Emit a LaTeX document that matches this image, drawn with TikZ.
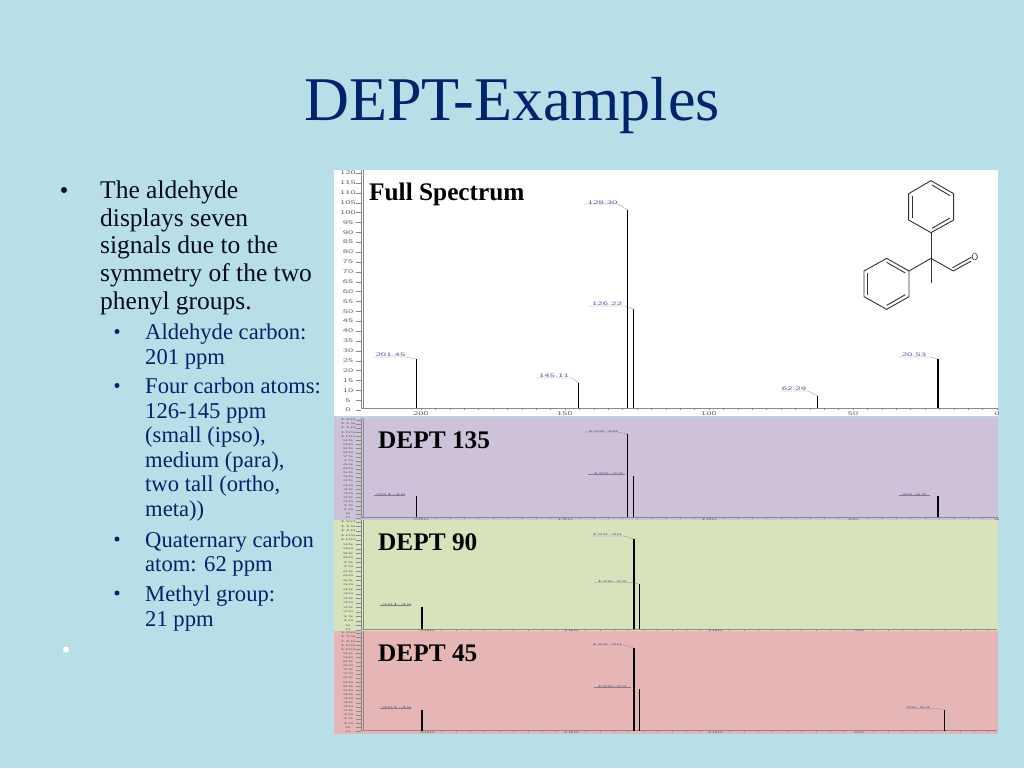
\documentclass[tikz,border=0pt]{standalone}
\usepackage{fontspec}
\setmainfont{Liberation Serif}
\definecolor{bgblue}{HTML}{B8DFE8}
\definecolor{navy}{HTML}{00246B}
\definecolor{bodyc}{HTML}{050A1E}
\definecolor{subc}{HTML}{00246B}
\definecolor{panelp}{HTML}{CDC2DA}
\definecolor{panelg}{HTML}{D8E3BC}
\definecolor{panelr}{HTML}{E6B6B6}
\definecolor{peakblue}{HTML}{5A55A8}
\definecolor{axisc}{HTML}{8A8A8A}
\newcommand{\fs}[1]{\fontsize{#1}{#1}\selectfont}
\tikzset{
  x=1pt,y=-1pt,
  peak/.style={line width=1.6pt,black},
  axisline/.style={line width=0.7pt,axisc},
  leader/.style={line width=0.25pt,gray},
  bond/.style={line width=0.9pt,black!80},
  mainline/.style={anchor=base west,inner sep=0,font=\fs{25.5},text=bodyc},
  subline/.style={anchor=base west,inner sep=0,font=\fs{22.6},text=subc},
  bulletmark/.style={circle,inner sep=0,minimum size=6pt,fill=#1},
  subbullet/.style={circle,inner sep=0,minimum size=5pt,fill=subc},
  paneltitle/.style={anchor=base west,inner sep=0,font=\fs{25.3}\bfseries,text=black},
  peaklabel/.style={inner sep=0,font=\fs{6.5}\sffamily,text=peakblue},
  axislabel/.style={inner sep=0,font=\fs{6.5}\sffamily,text=black!60},
}
% #1 top label y, #2 y spacing per 5 units, #3 baseline y, #4 x shift, #5 label y of x axis, #6 vertical squash
\newcommand{\panelaxes}[6]{
  \draw[axisline] (361,{#1-4}) -- (361,#3) -- (997,#3);
  \draw[axisline,line width=0.3pt] (363,{#1-4}) -- (363,#3);
  \foreach \v [count=\i from 0] in {120,115,...,0}{
    \node[axislabel,xscale=1.5,yscale=#6*0.85] at (348,{#1+\i*#2}) {\v};
    \draw[line width=0.25pt,axisc] (356,{#1+\i*#2}) -- (361,{#1+\i*#2});
  }
  \foreach \k in {0,...,40}{
    \draw[line width=0.25pt,axisc] ({#4+421+\k*14.4},#3) -- ({#4+421+\k*14.4},{#3+1.5});
  }
  \foreach \lab/\xp in {200/421,150/565,100/709,50/853,0/997}{
    \node[axislabel,xscale=1.5,yscale=#6*0.85] at ({#4+\xp},#5) {\lab};
  }
}
\begin{document}
\begin{tikzpicture}
\useasboundingbox (0,0) rectangle (1024,768);
\fill[bgblue] (0,0) rectangle (1024,768);
\node[anchor=base,inner sep=0,font=\fs{62.2},text=navy] (title) at (512,120) {DEPT-Examples};

% left text
\node[bulletmark=bodyc] (b1) at (64,190) {};
\node[mainline] (t1) at (100,198) {The aldehyde};
\node[mainline] (t2) at (100,226) {displays seven};
\node[mainline] (t3) at (100,253.5) {signals due to the};
\node[mainline] (t4) at (100,281) {symmetry of the two};
\node[mainline] (t5) at (100,309) {phenyl groups.};
\node[subbullet] (b2) at (117,331.5) {};
\node[subline] (s1) at (145,339) {Aldehyde carbon:};
\node[subline] (s2) at (145,364) {201 ppm};
\node[subbullet] (b3) at (117,385.5) {};
\node[subline] (s3) at (145,393) {Four carbon atoms:};
\node[subline] (s4) at (145,418) {126-145 ppm};
\node[subline] (s5) at (145,442) {(small (ipso),};
\node[subline] (s6) at (145,467) {medium (para),};
\node[subline] (s7) at (145,491) {two tall (ortho,};
\node[subline] (s8) at (145,516) {meta))};
\node[subbullet] (b4) at (117,539) {};
\node[subline] (s9) at (145,547) {Quaternary carbon};
\node[subline] (s10) at (145,571) {atom: 62 ppm};
\node[subbullet] (b5) at (117,593) {};
\node[subline] (s11) at (145,601) {Methyl group:};
\node[subline] (s12) at (145,626) {21 ppm};
\node[bulletmark=white] (b6) at (66,649.5) {};

% panels
\fill[white] (334,170) rectangle (998,416);
\fill[panelp] (334,416) rectangle (998,520);
\fill[panelg] (334,520) rectangle (998,631);
\fill[panelr] (334,631) rectangle (998,734);

% clipped axes
\begin{scope}
\clip (334,170) rectangle (998,416);
\panelaxes{173}{9.88}{408.3}{0}{413.7}{1}
\end{scope}
\begin{scope}
\clip (334,417) rectangle (998,520);
\panelaxes{420}{4.08}{517.3}{0}{519.5}{0.45}
\end{scope}
\begin{scope}
\clip (334,520) rectangle (998,631);
\panelaxes{522}{4.5}{629.3}{6}{631}{0.45}
\end{scope}
\begin{scope}
\clip (334,631) rectangle (998,734);
\panelaxes{633}{4.1}{730.7}{6}{733}{0.45}
\end{scope}

% separator between white and purple
\fill[bgblue!60!panelp] (334,415.5) rectangle (998,418);

% panel titles
\node[paneltitle] (full) at (369,200) {Full Spectrum};
\node[paneltitle] (d135) at (378,448) {DEPT 135};
\node[paneltitle] (d90) at (378,550) {DEPT 90};
\node[paneltitle] (d45) at (378,661) {DEPT 45};

% full spectrum peaks
\draw[peak] (416.3,408.3) -- (416.3,358.5);
\draw[peak] (578.5,408.3) -- (578.5,383);
\draw[peak] (627.5,408.3) -- (627.5,210);
\draw[peak] (633.5,408.3) -- (633.5,309);
\draw[peak] (817.5,408.3) -- (817.5,396);
\draw[peak] (938,408.3) -- (938,359);
\draw[leader] (374,357) -- (405,357) -- (416,359);
\draw[leader] (536,378) -- (572,378) -- (578.5,383);
\draw[leader] (584,204) -- (618,204) -- (627.5,210);
\draw[leader] (588,306) -- (625,306) -- (633.5,309);
\draw[leader] (780,391) -- (808,391) -- (817.5,396);
\draw[leader] (899,357) -- (930,357) -- (938,359);
\node[peaklabel,xscale=1.55,yscale=0.8] (f1) at (390.5,355) {201.45};
\node[peaklabel,xscale=1.55,yscale=0.8] (f2) at (554,376) {145.11};
\node[peaklabel,xscale=1.55,yscale=0.8] (f3) at (602.7,202.5) {128.30};
\node[peaklabel,xscale=1.55,yscale=0.8] (f4) at (607,304) {126.22};
\node[peaklabel,xscale=1.55,yscale=0.8] (f5) at (794,389) {62.29};
\node[peaklabel,xscale=1.55,yscale=0.8] (f6) at (914,355) {20.53};

% DEPT 135
\draw[peak] (416.3,517.3) -- (416.3,496);
\draw[peak] (627.5,517.3) -- (627.5,434);
\draw[peak] (633.5,517.3) -- (633.5,476);
\draw[peak] (938,517.3) -- (938,496);
\draw[leader] (584,432) -- (618,432) -- (627.5,434);
\draw[leader] (588,474) -- (625,474);
\draw[leader] (374,495) -- (405,495);
\draw[leader] (899,495) -- (930,495);
\node[peaklabel,xscale=1.55,yscale=0.4] (p1) at (391,494.5) {201.45};
\node[peaklabel,xscale=1.55,yscale=0.4] (p2) at (603,431.5) {128.30};
\node[peaklabel,xscale=1.55,yscale=0.4] (p3) at (608,473.5) {126.22};
\node[peaklabel,xscale=1.55,yscale=0.4] (p4) at (914,494.5) {20.53};

% DEPT 90
\draw[peak] (422,629.3) -- (422,606.7);
\draw[peak] (633.7,629.3) -- (633.7,539);
\draw[peak] (639.3,629.3) -- (639.3,584);
\draw[leader] (380,605.5) -- (411,605.5);
\draw[leader] (590,536) -- (624,536) -- (633.7,539);
\draw[leader] (594,582.5) -- (631,582.5) -- (639.3,584);
\node[peaklabel,xscale=1.55,yscale=0.4] (g1) at (397,605) {201.45};
\node[peaklabel,xscale=1.55,yscale=0.4] (g2) at (607,535) {128.30};
\node[peaklabel,xscale=1.55,yscale=0.4] (g3) at (612,582) {126.22};

% DEPT 45
\draw[peak] (422,730.7) -- (422,710);
\draw[peak] (633.7,730.7) -- (633.7,648);
\draw[peak] (639.3,730.7) -- (639.3,689);
\draw[peak] (944.3,730.7) -- (944.3,710);
\draw[leader] (380,708.5) -- (411,708.5);
\draw[leader] (590,645) -- (624,645) -- (633.7,648);
\draw[leader] (594,687.5) -- (631,687.5);
\draw[leader] (905,708.5) -- (936,708.5) -- (944.3,710);
\node[peaklabel,xscale=1.55,yscale=0.4] (r1) at (397,708) {201.45};
\node[peaklabel,xscale=1.55,yscale=0.4] (r2) at (607,644.5) {128.30};
\node[peaklabel,xscale=1.55,yscale=0.4] (r3) at (612,687) {126.22};
\node[peaklabel,xscale=1.55,yscale=0.4] (r4) at (918,708) {20.53};

% molecule
\begin{scope}[shift={(670,165)},x=0.3333pt,y=-0.3333pt]
\coordinate (u1) at (783,47); \coordinate (u2) at (851,86); \coordinate (u3) at (851,165);
\coordinate (u4) at (783,203); \coordinate (u5) at (716,165); \coordinate (u6) at (716,86);
\coordinate (cc) at (783,280); \coordinate (me) at (783,355);
\coordinate (l1) at (717,318); \coordinate (l2) at (650,280); \coordinate (l3) at (582,318);
\coordinate (l4) at (582,395); \coordinate (l5) at (650,433); \coordinate (l6) at (717,395);
\coordinate (cho) at (850,318);
\node[inner sep=0,font=\fs{9.5}\sffamily,text=black!85] (oxy) at (915,277) {O};
\draw[bond] (u1) -- (u2) -- (u3) -- (u4) -- (u5) -- (u6) -- cycle;
\draw[bond] (728,92) -- (728,159);
\draw[bond] (786,60) -- (840,92);
\draw[bond] (786,190) -- (840,159);
\draw[bond] (l1) -- (l2) -- (l3) -- (l4) -- (l5) -- (l6) -- cycle;
\draw[bond] (650,292) -- (706,324);
\draw[bond] (593,324) -- (593,389);
\draw[bond] (650,421) -- (706,389);
\draw[bond] (u4) -- (cc);
\draw[bond] (cc) -- (me);
\draw[bond] (cc) -- (l1);
\draw[bond] (cc) -- (cho);
\draw[bond] (cho) -- (oxy.south west);
\draw[bond] (848,308) -- (oxy.west);
\end{scope}
\end{tikzpicture}
\end{document}
